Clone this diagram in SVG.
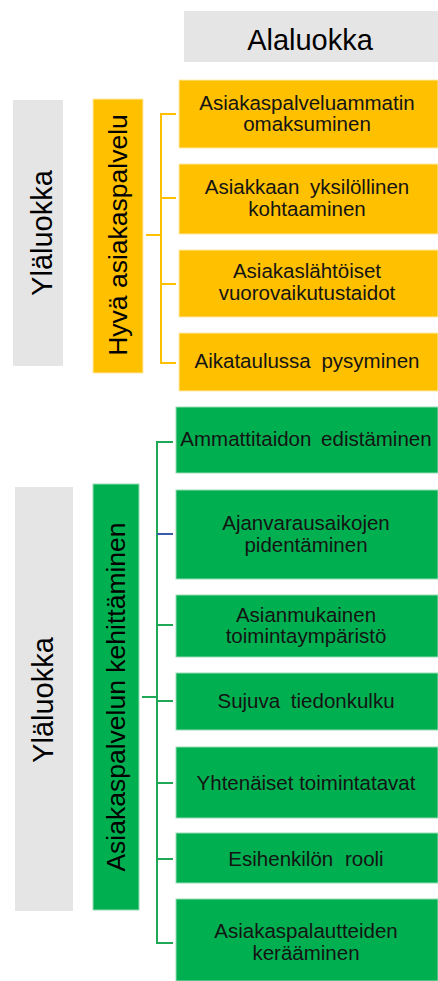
<svg xmlns="http://www.w3.org/2000/svg" width="438" height="981" viewBox="0 0 438 981">
<style>
.gray{fill:#E5E5E5}
.yel{fill:#FFC000;stroke:#FFE9A8;stroke-width:1}
.grn{fill:#00B050;stroke:#9ADBB4;stroke-width:1}
.t{font-family:"Liberation Sans",Arial,sans-serif;font-size:20.5px;fill:#141414;text-anchor:middle}
.big{font-family:"Liberation Sans",Arial,sans-serif;font-size:29px;fill:#000;text-anchor:middle}
.lab{font-family:"Liberation Sans",Arial,sans-serif;font-size:26.5px;fill:#000;text-anchor:middle}
.cy{stroke:#FFC000;stroke-width:2;fill:none}
.cg{stroke:#1FA855;stroke-width:2;fill:none}
.cb{stroke:#3A5BA8;stroke-width:2;fill:none}
</style>
<g id="header">
<rect class="gray" x="184" y="11" width="254" height="51"/>
<text class="big" x="310" y="50">Alaluokka</text>
</g>
<g id="ylaluokka1">
<rect class="gray" x="13" y="100" width="50" height="266"/>
<text class="big" transform="translate(52,233) rotate(-90)">Yläluokka</text>
</g>
<g id="hyva">
<rect class="yel" x="93" y="99" width="50" height="274"/>
<text class="lab" transform="translate(127,235) rotate(-90)">Hyvä asiakaspalvelu</text>
</g>
<g id="y1">
<rect class="yel" x="179" y="80" width="259" height="68"/>
<text class="t" x="307" y="110">Asiakaspalveluammatin</text>
<text class="t" x="307" y="131">omaksuminen</text>
</g>
<g id="y2">
<rect class="yel" x="179" y="164" width="259" height="70"/>
<text class="t" x="307" y="194" word-spacing="5">Asiakkaan yksilöllinen</text>
<text class="t" x="307" y="216">kohtaaminen</text>
</g>
<g id="y3">
<rect class="yel" x="179" y="250" width="259" height="67"/>
<text class="t" x="307" y="278">Asiakaslähtöiset</text>
<text class="t" x="307" y="300">vuorovaikutustaidot</text>
</g>
<g id="y4">
<rect class="yel" x="179" y="333" width="259" height="58"/>
<text class="t" x="307" y="368" word-spacing="5">Aikataulussa pysyminen</text>
</g>
<g id="ylaluokka2">
<rect class="gray" x="15" y="487" width="58" height="424"/>
<text class="big" transform="translate(53,700) rotate(-90)">Yläluokka</text>
</g>
<g id="kehittaminen">
<rect class="grn" x="93" y="484" width="46" height="426"/>
<text class="lab" transform="translate(125,697) rotate(-90)">Asiakaspalvelun kehittäminen</text>
</g>
<g id="g1">
<rect class="grn" x="176" y="407" width="262" height="66"/>
<text class="t" x="306" y="446" word-spacing="4">Ammattitaidon edistäminen</text>
</g>
<g id="g2">
<rect class="grn" x="176" y="490" width="262" height="89"/>
<text class="t" x="306" y="530">Ajanvarausaikojen</text>
<text class="t" x="306" y="552">pidentäminen</text>
</g>
<g id="g3">
<rect class="grn" x="176" y="595" width="262" height="62"/>
<text class="t" x="306" y="622">Asianmukainen</text>
<text class="t" x="306" y="643">toimintaympäristö</text>
</g>
<g id="g4">
<rect class="grn" x="176" y="673" width="262" height="57"/>
<text class="t" x="306" y="708" word-spacing="5">Sujuva tiedonkulku</text>
</g>
<g id="g5">
<rect class="grn" x="176" y="747" width="262" height="71"/>
<text class="t" x="306" y="790">Yhtenäiset toimintatavat</text>
</g>
<g id="g6">
<rect class="grn" x="176" y="833" width="262" height="50"/>
<text class="t" x="306" y="866" word-spacing="6">Esihenkilön rooli</text>
</g>
<g id="g7">
<rect class="grn" x="176" y="899" width="262" height="82"/>
<text class="t" x="306" y="938">Asiakaspalautteiden</text>
<text class="t" x="306" y="960">kerääminen</text>
</g>
<g id="connectors">
<path class="cy" d="M146 235H161M176 114H161V363H176M161 198H176M161 284H176"/>
<path class="cg" d="M142 697H157M173 442H157V943H173M157 625H173M157 701H173M157 783H173M157 859H173"/>
<path class="cb" d="M157 534H173"/>
</g>
</svg>
